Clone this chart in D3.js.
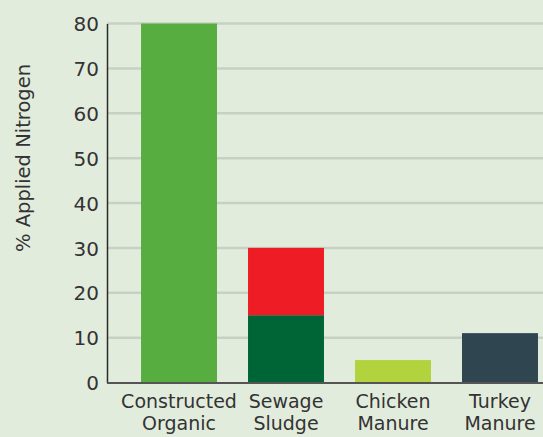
<!DOCTYPE html>
<html>
<head>
<meta charset="utf-8">
<script src="https://cdn.jsdelivr.net/npm/d3@7"></script>
<style>
  html, body { margin: 0; padding: 0; background: #e2ecdd; }
  svg { display: block; }
  text { font-family: "DejaVu Sans", sans-serif; fill: #333; }
</style>
</head>
<body>
<svg id="chart"></svg>
<script>
// chart values
var categories = ['Constructed Organic', 'Sewage Sludge', 'Chicken Manure', 'Turkey Manure'];
var lowerValues = [80, 15, 5, 11];
var upperValues = [0, 15, 0, 0];
var lowerColors = ['#58ad41', '#006536', '#b3d33e', '#2f4650'];
var upperColor = '#ee1c25';
var yTicks = [0, 10, 20, 30, 40, 50, 60, 70, 80];

var width = 543, height = 437;

var svg = d3.select('#chart')
  .attr('width', width)
  .attr('height', height);

svg.append('rect')
  .attr('width', width)
  .attr('height', height)
  .attr('fill', '#e2ecdd');

var y = d3.scaleLinear().domain([0, 80]).range([382.5, 23.5]);

// the band runs past the right edge, like the original
var x = d3.scaleBand()
  .domain(categories)
  .range([107, 572])
  .paddingInner(0.29)
  .paddingOuter(0.318);

var rows = categories.map(function(c, i) {
  return { cat: c, lower: lowerValues[i], upper: upperValues[i], idx: i };
});
var stacked = d3.stack().keys(['lower', 'upper'])(rows);

// gridlines
svg.append('g')
  .selectAll('line')
  .data(yTicks.filter(function(t) { return t > 0; }))
  .join('line')
  .attr('x1', 107)
  .attr('x2', width)
  .attr('y1', function(d) { return y(d); })
  .attr('y2', function(d) { return y(d); })
  .attr('stroke', '#c6d1c3')
  .attr('stroke-width', 2.5);

// bars
svg.append('g')
  .selectAll('g')
  .data(stacked)
  .join('g')
  .selectAll('rect')
  .data(function(s) { return s.map(function(d) { d.key = s.key; return d; }); })
  .join('rect')
  .attr('x', function(d) { return x(d.data.cat); })
  .attr('width', x.bandwidth())
  .attr('y', function(d) { return y(d[1]); })
  .attr('height', function(d) { return y(d[0]) - y(d[1]); })
  .attr('fill', function(d) {
    return d.key === 'upper' ? upperColor : lowerColors[d.data.idx];
  });

// y axis
var yAxis = svg.append('g')
  .attr('transform', 'translate(107,0)')
  .call(d3.axisLeft(y).tickValues(yTicks).tickSize(0).tickPadding(8));
yAxis.select('.domain').attr('stroke', '#2b2b2b').attr('stroke-width', 1.5);
yAxis.selectAll('text')
  .style('font-size', '20px')
  .attr('fill', '#333')
  .attr('dy', '0.36em');

// x axis
var xAxis = svg.append('g')
  .attr('transform', 'translate(0,383)')
  .call(d3.axisBottom(x).tickSize(0).tickFormat(''));
xAxis.select('.domain')
  .attr('d', 'M107,0H' + width)
  .attr('stroke', '#555')
  .attr('stroke-width', 2);

xAxis.selectAll('.tick text').remove();
xAxis.selectAll('.tick').each(function(d) {
  var words = d.split(' ');
  var t = d3.select(this).append('text')
    .attr('text-anchor', 'middle')
    .style('font-size', '19px')
    .attr('fill', '#333');
  words.forEach(function(w, i) {
    t.append('tspan')
      .attr('x', 0)
      .attr('y', 24.5 + i * 22)
      .text(w);
  });
});

// axis title
svg.append('text')
  .attr('transform', 'translate(30,158) rotate(-90)')
  .attr('text-anchor', 'middle')
  .style('font-size', '19.5px')
  .attr('fill', '#333')
  .text('% Applied Nitrogen');
</script>
</body>
</html>
